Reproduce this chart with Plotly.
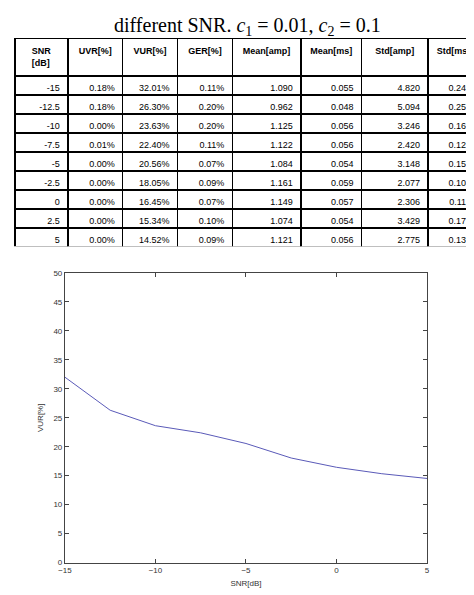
import plotly.graph_objects as go

snr = [-15, -12.5, -10, -7.5, -5, -2.5, 0, 2.5, 5]
uvr = ["0.18%", "0.18%", "0.00%", "0.01%", "0.00%", "0.00%", "0.00%", "0.00%", "0.00%"]
vur = [32.01, 26.30, 23.63, 22.40, 20.56, 18.05, 16.45, 15.34, 14.52]
ger = ["0.11%", "0.20%", "0.20%", "0.11%", "0.07%", "0.09%", "0.07%", "0.10%", "0.09%"]
mean_amp = ["1.090", "0.962", "1.125", "1.122", "1.084", "1.161", "1.149", "1.074", "1.121"]
mean_ms = ["0.055", "0.048", "0.056", "0.056", "0.054", "0.059", "0.057", "0.054", "0.056"]
std_amp = ["4.820", "5.094", "3.246", "2.420", "3.148", "2.077", "2.306", "3.429", "2.775"]
std_ms = ["0.241", "0.255", "0.162", "0.121", "0.157", "0.104", "0.115", "0.171", "0.139"]
headers = ["SNR [dB]", "UVR[%]", "VUR[%]", "GER[%]", "Mean[amp]", "Mean[ms]", "Std[amp]", "Std[ms]"]

fig = go.Figure()
fig.add_trace(go.Table(
    domain=dict(x=[0, 1], y=[0.6, 0.955]),
    columnwidth=[54, 56, 56, 56, 70, 62, 68, 52],
    header=dict(values=[f"<b>{h}</b>" for h in headers], align="center", height=22,
                line=dict(color="black", width=1.5), fill_color="white",
                font=dict(family="Arial", size=9, color="black")),
    cells=dict(values=[[str(s) for s in snr], uvr, [f"{v:.2f}%" for v in vur], ger,
                       mean_amp, mean_ms, std_amp, std_ms],
               align="right", height=19, line=dict(color="black", width=1.5),
               fill_color="white", font=dict(family="Arial", size=9, color="black")),
))
fig.add_trace(go.Scatter(x=snr, y=vur, mode="lines", line=dict(color="#5a5ab8", width=1),
                         showlegend=False))
fig.add_annotation(text="different SNR. <i>c</i><sub>1</sub> = 0.01, <i>c</i><sub>2</sub> = 0.1",
                   xref="paper", yref="paper", x=0.5, y=1.0, yanchor="top", showarrow=False,
                   font=dict(family="Liberation Serif", size=20, color="black"))
ax = dict(showline=True, linecolor="#444", linewidth=1, mirror="ticks", ticks="inside",
          ticklen=4, tickcolor="#444", showgrid=False, zeroline=False,
          tickfont=dict(family="Arial", size=8, color="#333"))
fig.update_layout(
    width=474, height=595, margin=dict(l=0, r=0, t=0, b=0),
    paper_bgcolor="white", plot_bgcolor="white",
    xaxis=dict(domain=[0.1076, 0.888], range=[-15, 5], tickvals=[-15, -10, -5, 0, 5],
               title=dict(text="SNR[dB]", font=dict(family="Arial", size=8, color="#333"), standoff=6), **ax),
    yaxis=dict(domain=[0.0605, 0.5546], range=[0, 50], dtick=5,
               title=dict(text="VUR[%]", font=dict(family="Arial", size=8, color="#333"), standoff=8), **ax),
)
fig.write_html("out.html")
